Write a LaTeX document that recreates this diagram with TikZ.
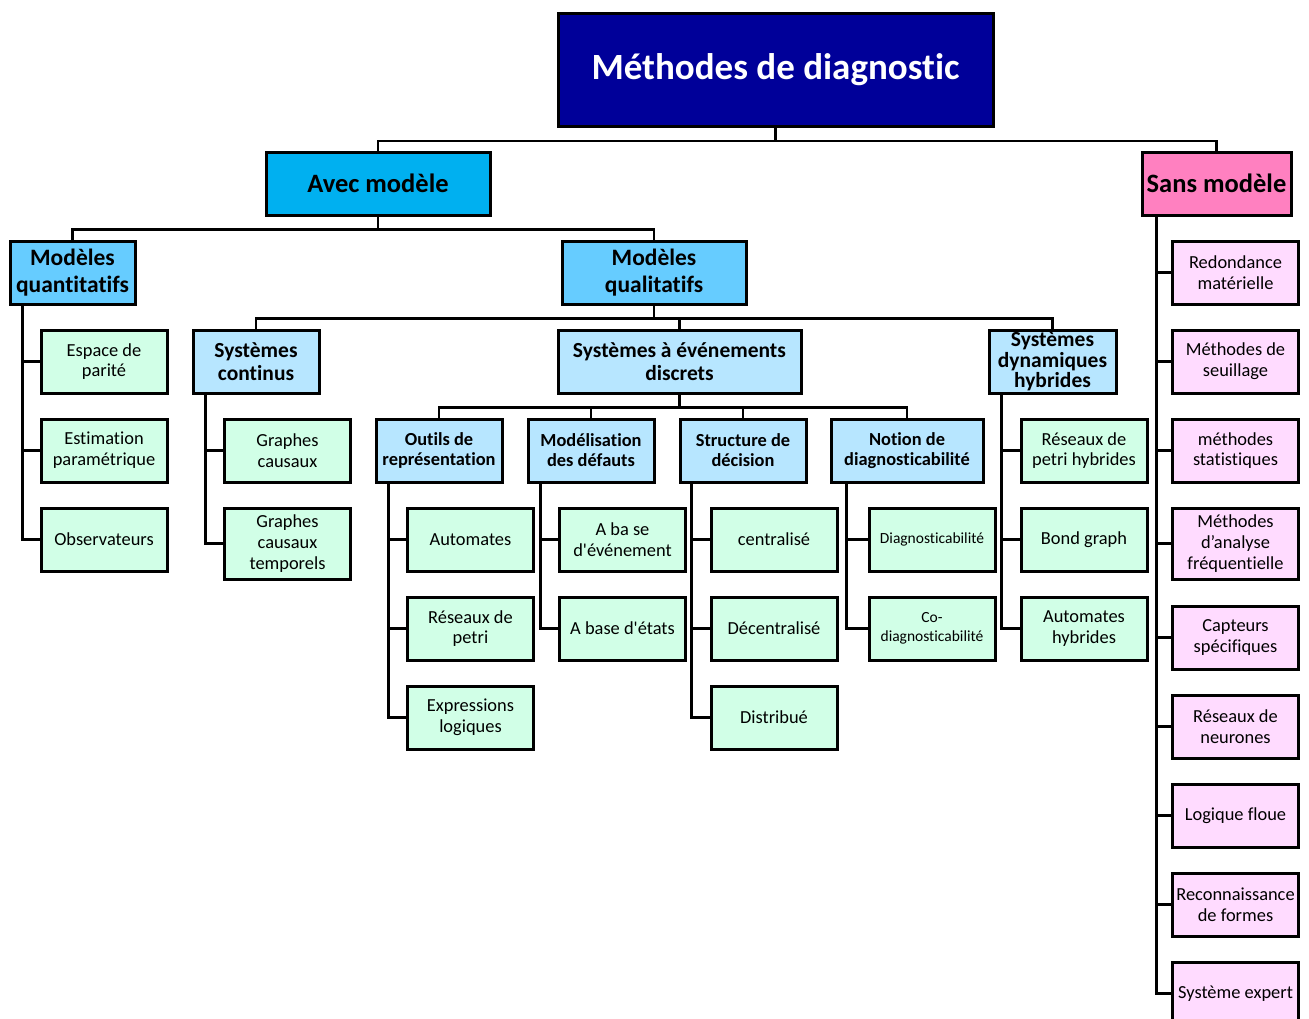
\documentclass[tikz,border=0pt]{standalone}
\usepackage{fontspec}
\setmainfont{Carlito}[Ligatures={TeXOff,NoCommon}]
\definecolor{rootblue}{RGB}{0,0,153}
\definecolor{cyanbox}{RGB}{0,176,240}
\definecolor{pinkbox}{RGB}{255,128,192}
\definecolor{midblue}{RGB}{102,204,255}
\definecolor{paleblue}{RGB}{183,230,255}
\definecolor{palegreen}{RGB}{209,255,231}
\definecolor{palepink}{RGB}{255,219,255}

\begin{document}
\begin{tikzpicture}[x=1pt,y=-1pt,
    box/.style={draw=black,line width=3pt,align=center,inner sep=0pt,minimum width=126pt,minimum height=63pt},
    root/.style={box,fill=rootblue,text=white,minimum width=435pt,minimum height=113pt,font=\bfseries\fontsize{37}{44}\selectfont},
    lone/.style={box,font=\bfseries\fontsize{26.5}{32}\selectfont},
    ltwo/.style={box,fill=midblue,font=\bfseries\fontsize{23.5}{27}\selectfont},
    lthree/.style={box,fill=paleblue,font=\bfseries\fontsize{21.5}{23}\selectfont},
    lfour/.style={box,fill=paleblue,font=\bfseries\fontsize{18.4}{20}\selectfont},
    leaf/.style={box,fill=palegreen,font=\fontsize{18.4}{20.8}\selectfont},
    pleaf/.style={box,fill=palepink,font=\fontsize{18.4}{20.8}\selectfont},
    small/.style={font=\fontsize{15.5}{19}\selectfont},
    link/.style={line width=2.6pt}]
    \useasboundingbox (0,0) rectangle (1309,1018);
    % upper levels
    \node[root] (title) at (775.5,70) {Méthodes de diagnostic};
    \node[lone,fill=cyanbox,minimum width=224pt] (avec) at (378,183.5) {Avec modèle};
    \node[lone,fill=pinkbox,minimum width=149pt] (sans) at (1216.5,183.5) {Sans modèle};
    \node[ltwo,minimum width=125pt] (quant) at (72.5,272.5) {Modèles\\quantitatifs};
    \node[ltwo,minimum width=184pt] (qual) at (654,272.5) {Modèles\\qualitatifs};
    \node[lthree] (cont) at (256,361.5) {Systèmes\\continus};
    \node[lthree,minimum width=243pt] (sed) at (679.5,361.5) {Systèmes à événements\\discrets};
    \node[lthree,minimum width=127pt,font=\bfseries\fontsize{21.5}{20.5}\selectfont] (sdh) at (1052.5,361.5) {Systèmes\\dynamiques\\hybrides};
    \node[lfour] (outils) at (439,450.5) {Outils de\\représentation};
    \node[lfour] (defauts) at (591,450.5) {Modélisation\\des défauts};
    \node[lfour] (decision) at (743,450.5) {Structure de\\décision};
    \node[lfour,minimum width=152pt] (notion) at (907,450.5) {Notion de\\diagnosticabilité};
    % leaves
    \node[leaf] (parite) at (104,361.5) {Espace de\\parité};
    \node[leaf] (estim) at (104,450.5) {Estimation\\paramétrique};
    \node[leaf] (obs) at (104,539.5) {Observateurs};
    \node[leaf] (graphes) at (287.5,450.5) {Graphes\\causaux};
    \node[leaf,minimum height=71pt] (grapht) at (287.5,543.5) {Graphes\\causaux\\temporels};
    \node[leaf] (autom) at (470.5,539.5) {Automates};
    \node[leaf] (petri) at (470.5,628.5) {Réseaux de\\petri};
    \node[leaf] (expr) at (470.5,717.5) {Expressions\\logiques};
    \node[leaf] (evt) at (622.5,539.5) {A ba se\\d'événement};
    \node[leaf] (etats) at (622.5,628.5) {A base d'états};
    \node[leaf] (centr) at (774,539.5) {centralisé};
    \node[leaf] (decentr) at (774,628.5) {Décentralisé};
    \node[leaf] (distr) at (774,717.5) {Distribué};
    \node[leaf,small] (diag) at (932,539.5) {Diagnosticabilité};
    \node[leaf,small] (codiag) at (932,628.5) {Co-\\diagnosticabilité};
    \node[leaf] (rph) at (1084,450.5) {Réseaux de\\petri hybrides};
    \node[leaf] (bond) at (1084,539.5) {Bond graph};
    \node[leaf] (ahyb) at (1084,628.5) {Automates\\hybrides};
    \node[pleaf] (redond) at (1235.5,272.5) {Redondance\\matérielle};
    \node[pleaf] (seuil) at (1235.5,361.5) {Méthodes de\\seuillage};
    \node[pleaf] (stat) at (1235.5,450.5) {méthodes\\statistiques};
    \node[pleaf,minimum height=71pt] (freq) at (1235.5,543.5) {Méthodes\\d’analyse\\fréquentielle};
    \node[pleaf] (capt) at (1235.5,637.5) {Capteurs\\spécifiques};
    \node[pleaf] (neur) at (1235.5,726.5) {Réseaux de\\neurones};
    \node[pleaf] (floue) at (1235.5,815.5) {Logique floue};
    \node[pleaf] (formes) at (1235.5,904.5) {Reconnaissance\\de formes};
    \node[pleaf] (expert) at (1235.5,993.5) {Système expert};
    % connectors
    \foreach \n in {avec,sans} \draw[link] (title.south) -- ++(0,13) -| (\n.north);
    \foreach \n in {quant,qual} \draw[link] (avec.south) -- ++(0,13) -| (\n.north);
    \foreach \n in {cont,sed,sdh} \draw[link] (qual.south) -- ++(0,13) -| (\n.north);
    \foreach \n in {outils,defauts,decision,notion} \draw[link] (sed.south) -- ++(0,13) -| (\n.north);
    \foreach \n in {parite,estim,obs} \draw[link] ([xshift=14pt]quant.south west) |- (\n.west);
    \foreach \n in {graphes,grapht} \draw[link] ([xshift=14pt]cont.south west) |- (\n.west);
    \foreach \n in {autom,petri,expr} \draw[link] ([xshift=14pt]outils.south west) |- (\n.west);
    \foreach \n in {evt,etats} \draw[link] ([xshift=14pt]defauts.south west) |- (\n.west);
    \foreach \n in {centr,decentr,distr} \draw[link] ([xshift=13pt]decision.south west) |- (\n.west);
    \foreach \n in {diag,codiag} \draw[link] ([xshift=17pt]notion.south west) |- (\n.west);
    \foreach \n in {rph,bond,ahyb} \draw[link] ([xshift=14pt]sdh.south west) |- (\n.west);
    \foreach \n in {redond,seuil,stat,freq,capt,neur,floue,formes,expert} \draw[link] ([xshift=16pt]sans.south west) |- (\n.west);
\end{tikzpicture}
\end{document}
